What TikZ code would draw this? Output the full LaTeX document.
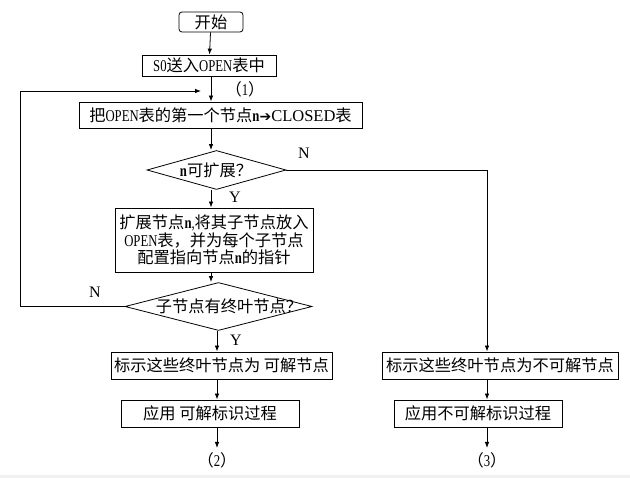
\documentclass[tikz,border=0pt]{standalone}
\usepackage{fontspec}
\setmainfont{Liberation Serif}[FakeStretch=0.77]
\newfontfamily\wide{Liberation Serif}
\newfontfamily\cjk[Scale=0.985]{Noto Sans CJK SC}
\newfontfamily\symf{DejaVu Sans}
\newcommand\zh[1]{{\cjk #1}}
\usetikzlibrary{shapes.geometric,arrows.meta}
\tikzset{
  box/.style={draw, line width=0.8pt, inner sep=0pt, align=center},
  dia/.style={draw, diamond, line width=0.8pt, inner sep=0pt},
  lbl/.style={inner sep=0pt},
  yn/.style={inner sep=0pt, font=\fontsize{16}{17}\selectfont\wide},
  arr/.style={line width=0.8pt, -{Latex[length=6pt,width=4.5pt]}},
  ln/.style={line width=0.8pt}
}
\begin{document}
\begin{tikzpicture}[x=1pt,y=-1pt,font=\fontsize{16.5}{17.5}\selectfont]
\useasboundingbox (0,0) rectangle (630,478);
\fill[gray!12] (0,475) rectangle (630,478);
% axes
\coordinate (ax) at (211,0);
\coordinate (bx) at (217,0);
\coordinate (cx) at (487,0);
% nodes
\node[box, rounded corners=3pt, minimum width=64, minimum height=20] (start) at (211,22) {\zh{开始}};
\node[box, minimum width=134, minimum height=21] (s0) at (209,65.5) {S0\zh{送入}OPEN\zh{表中}};
\node[lbl] (l1) at (245,89) {\zh{（}1\zh{）}};
\node[box, minimum width=283, minimum height=26] (move) at (220.5,115) {\zh{把}OPEN\zh{表的第一个节点}\textbf{n}{\symf\bfseries\fontsize{14}{15}\selectfont ➔}{\wide CLOSED}\zh{表}};
\node[dia, minimum width=139, minimum height=39] (d1) at (216.5,170) {};
\node[lbl] (t1) at (216,170) {\textbf{n}\zh{可扩展？}};
\node[yn] (n1) at (304,153) {N};
\node[yn] (y1) at (235,197) {Y};
\node[box, minimum width=198, minimum height=64] (exp) at (214,240) {\zh{扩展节点}\textbf{n},\zh{将其子节点放入}\\OPEN\zh{表，并为每个子节点}\\\zh{配置指向节点}\textbf{n}\zh{的指针}};
\node[dia, minimum width=187, minimum height=48] (d2) at (218.5,306.5) {};
\node[lbl] (t2) at (229,306.5) {\zh{子节点有终叶节点？}};
\node[yn] (n2) at (95,292) {N};
\node[yn] (y2) at (236,340) {Y};
\node[box, minimum width=221, minimum height=27] (mark) at (221.5,365.5) {\zh{标示这些终叶节点为 可解节点}};
\node[box, minimum width=178, minimum height=27] (app) at (210,413.5) {\zh{应用 可解标识过程}};
\node[lbl] (l2) at (217,460) {\zh{（}2\zh{）}};
\node[box, minimum width=236, minimum height=27] (markn) at (500,365.5) {\zh{标示这些终叶节点为不可解节点}};
\node[box, minimum width=168, minimum height=27] (appn) at (478,413.5) {\zh{应用不可解标识过程}};
\node[lbl] (l3) at (487,460) {\zh{（}3\zh{）}};
\coordinate (loopend) at (201,91);
\coordinate (loopc) at (20,91);
\coordinate (l2top) at (217,448);
\coordinate (l3top) at (487,448);
% connectors
\draw[arr] (start) -- (s0);
\draw[arr] (ax |- s0.south) -- (ax |- move.north);
\draw[arr] (ax |- move.south) -- (ax |- d1.north);
\draw[arr] (ax |- d1.south) -- (ax |- exp.north);
\draw[arr] (ax |- exp.south) -- (ax |- d2.north);
\draw[arr] (bx |- d2.south) -- (bx |- mark.north);
\draw[arr] (bx |- mark.south) -- (bx |- app.north);
\draw[arr] (bx |- app.south) -- (l2top);
\draw[arr] (d2.west) -| (loopc) -- (loopend);
\draw[arr] (d1.east) -| (cx |- markn.north);
\draw[arr] (cx |- markn.south) -- (cx |- appn.north);
\draw[arr] (cx |- appn.south) -- (l3top);
\end{tikzpicture}
\end{document}
